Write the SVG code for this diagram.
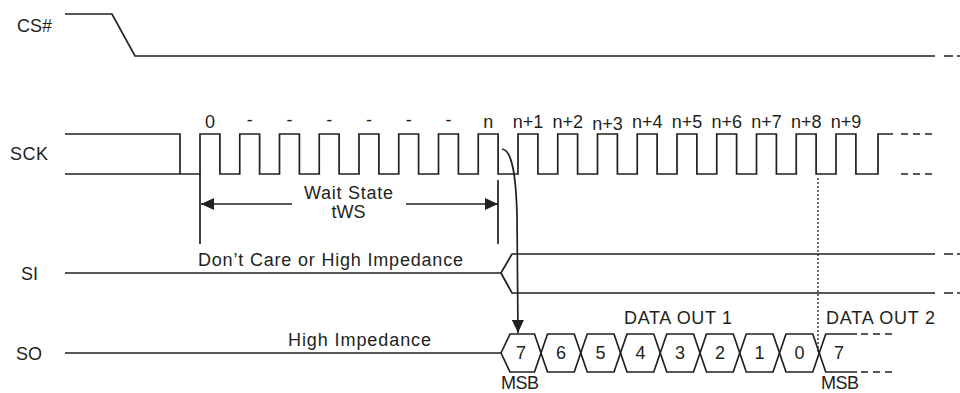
<svg xmlns="http://www.w3.org/2000/svg" width="960" height="393" viewBox="0 0 960 393">
<style>
.w{fill:none;stroke:#231f20;stroke-width:1.7}
.d{fill:none;stroke:#231f20;stroke-width:1.7;stroke-dasharray:7,5}
.dot{fill:none;stroke:#231f20;stroke-width:1.3;stroke-dasharray:2,2}
text{font-family:"Liberation Sans",Arial,Helvetica,sans-serif;font-size:18px;fill:#231f20}
.m{text-anchor:middle}
</style>
<defs>
<marker id="ah" markerUnits="userSpaceOnUse" markerWidth="14" markerHeight="12" refX="13" refY="6" orient="auto">
<path d="M0,0L13,6L0,12z" fill="#231f20"/>
</marker>
</defs>
<rect width="960" height="393" fill="#fff"/>

<g id="cs">
<text x="17" y="32" textLength="35">CS#</text>
<path class="w" d="M65,14H112L135,56H935"/>
<path class="w" d="M944,56H960" style="stroke-dasharray:9,4"/>
</g>

<g id="sck">
<text x="10" y="160" textLength="38">SCK</text>
<path class="w" d="M65,134H180V174M65,174H200V134H219.9V174H239.75V134H259.6V174H279.5V134H299.4V174H319.25V134H339.1V174H359V134H378.9V174H398.75V134H418.6V174H438.5V134H458.4V174H478.25V134H498.1V174H518V134H537.9V174H557.75V134H577.6V174H597.5V134H617.4V174H637.25V134H657.1V174H677V134H696.9V174H716.75V134H736.6V174H756.5V134H776.4V174H796.25V134H816.1V174H836V134H855.9V174H878V134H893"/>
<path class="d" d="M901,134H932M901,174H932"/>
<text class="m" x="210" y="128">0</text>
<text class="m" x="249.75" y="126">-</text>
<text class="m" x="289.5" y="126">-</text>
<text class="m" x="329.25" y="126">-</text>
<text class="m" x="369" y="126">-</text>
<text class="m" x="408.75" y="126">-</text>
<text class="m" x="448.5" y="126">-</text>
<text class="m" x="488.25" y="128">n</text>
<text class="m" x="528" y="128">n+1</text>
<text class="m" x="567.75" y="128">n+2</text>
<text class="m" x="607.5" y="130">n+3</text>
<text class="m" x="647.25" y="128">n+4</text>
<text class="m" x="687" y="128">n+5</text>
<text class="m" x="726.75" y="128">n+6</text>
<text class="m" x="766.5" y="128">n+7</text>
<text class="m" x="806.25" y="128">n+8</text>
<text class="m" x="846" y="128">n+9</text>
</g>

<g id="waitstate">
<path class="w" d="M200,174V244M498,180V244"/>
<text class="m" x="348.5" y="199" textLength="89">Wait State</text>
<text class="m" x="348.5" y="218">tWS</text>
</g>

<g id="si">
<text x="21" y="280">SI</text>
<path class="w" d="M65,273H501L512,254H935M501,273L512,293H935"/>
<path class="w" d="M944,254H960M944,293H960" style="stroke-dasharray:9,4"/>
<text x="198" y="266" textLength="265">Don’t Care or High Impedance</text>
</g>

<g id="so">
<text x="16" y="360" textLength="26">SO</text>
<path class="w" d="M65,353H501"/>
<path class="w" d="M501,353L510,334H534.5L547.5,372H574.25L587.25,334H614L627,372H653.75L666.75,334H693.5L706.5,372H733.25L746.25,334H773L786,372H812.75L825.75,334H857"/>
<path class="w" d="M501,353L510,372H534.5L547.5,334H574.25L587.25,372H614L627,334H653.75L666.75,372H693.5L706.5,334H733.25L746.25,372H773L786,334H812.75L825.75,372H857"/>
<path class="d" d="M861,334H893M861,372H893"/>
<text x="288" y="346" textLength="143">High Impedance</text>
<text class="m" x="521" y="359">7</text>
<text class="m" x="560.9" y="359">6</text>
<text class="m" x="600.6" y="359">5</text>
<text class="m" x="640.4" y="359">4</text>
<text class="m" x="680.1" y="359">3</text>
<text class="m" x="719.9" y="359">2</text>
<text class="m" x="759.6" y="359">1</text>
<text class="m" x="799.4" y="359">0</text>
<text class="m" x="839" y="359">7</text>
<text x="624" y="324" textLength="108">DATA OUT 1</text>
<text x="826" y="324" textLength="109">DATA OUT 2</text>
<text x="501" y="389" textLength="38">MSB</text>
<text x="821" y="389" textLength="38">MSB</text>
</g>

<g id="connectors">
<path class="w" d="M292,204H201" marker-end="url(#ah)"/>
<path class="w" d="M406,204H498" marker-end="url(#ah)"/>
<path class="w" d="M502,149C512,150 516,175 517,215L518,333" marker-end="url(#ah)"/>
<path class="dot" d="M818,178V352"/>
</g>
</svg>
